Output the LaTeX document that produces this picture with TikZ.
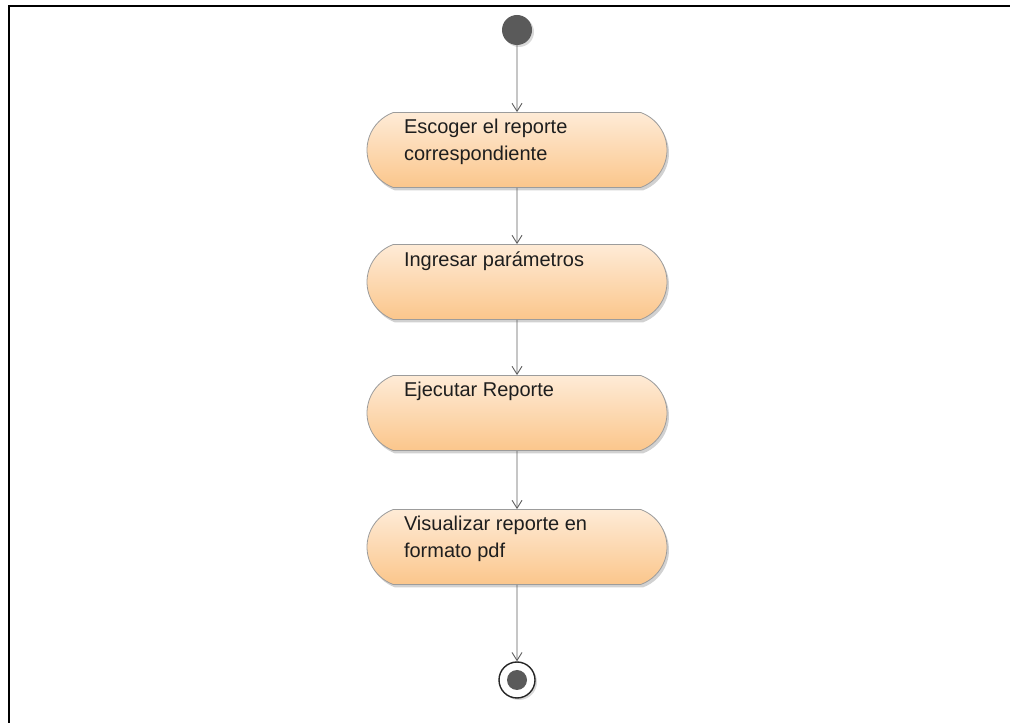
\documentclass[tikz,border=0pt]{standalone}
\usepackage{fontspec}
\setmainfont{Liberation Sans}
\usetikzlibrary{shapes.misc,arrows.meta,shadows}

\definecolor{startgray}{HTML}{5A5A5A}
\definecolor{edgegray}{HTML}{9C9C9C}
\definecolor{flowgray}{HTML}{5E5E5E}
\definecolor{peachtop}{HTML}{FEEBD6}
\definecolor{peachbot}{HTML}{FBC68C}
\definecolor{textdark}{HTML}{1E1E1E}

\tikzset{
  action/.style={rounded rectangle, rounded rectangle arc length=140,
    minimum width=300pt, minimum height=75pt, inner sep=0pt,
    draw=edgegray, line width=0.8pt, text=textdark,
    top color=peachtop, bottom color=peachbot,
    drop shadow={shadow xshift=2pt, shadow yshift=-3pt, opacity=0.18, fill=black}},
  initial/.style={circle, fill=startgray, minimum size=30pt, inner sep=0pt,
    drop shadow={shadow xshift=2pt, shadow yshift=-2pt, opacity=0.15, fill=black}},
  final/.style={circle, draw=black!85, line width=1.4pt, fill=white,
    minimum size=36pt, inner sep=0pt,
    drop shadow={shadow xshift=2pt, shadow yshift=-2pt, opacity=0.15, fill=black}},
  finaldot/.style={circle, fill=startgray, minimum size=20pt, inner sep=0pt},
  flow/.style={draw=flowgray, line width=0.9pt,
    -{Straight Barb[length=8pt,width=10pt,line width=0.9pt]}},
  frameline/.style={line width=2.5pt, black}
}

% text block placed in the upper part of an action box
\newcommand{\acttext}[1]{\parbox[c][75pt][t]{226pt}{\fontsize{20}{27}\selectfont\vspace*{7pt}#1}}

\begin{document}
\begin{tikzpicture}[x=1pt,y=1pt]
  \useasboundingbox (0,0) rectangle (1010,723);
  \fill[white] (0,0) rectangle (1010,723);

  % frame: top and left edges
  \draw[frameline] (9,0) -- (9,717) -- (1010,717);

  % activity nodes
  \node[initial] (start) at (517,693) {};
  \node[action] (a1) at (517,573) {\acttext{Escoger el reporte\\correspondiente}};
  \node[action] (a2) at (517,441) {\acttext{Ingresar parámetros}};
  \node[action] (a3) at (517,310) {\acttext{Ejecutar Reporte}};
  \node[action] (a4) at (517,176) {\acttext{Visualizar reporte en\\formato pdf}};
  \node[final] (end) at (517,43) {};
  \node[finaldot] (enddot) at (end.center) {};

  % control flow
  \draw[flow] (start) -- (a1);
  \draw[flow] (a1) -- (a2);
  \draw[flow] (a2) -- (a3);
  \draw[flow] (a3) -- (a4);
  \draw[flow] (a4) -- (end);
\end{tikzpicture}
\end{document}
